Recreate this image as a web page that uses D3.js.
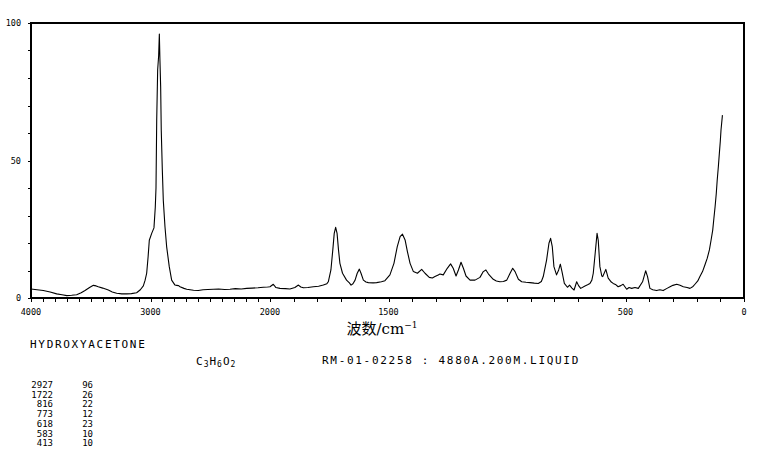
<!DOCTYPE html>
<html><head><meta charset="utf-8">
<script src="https://cdn.jsdelivr.net/npm/d3@7"></script>
<style>
html,body{margin:0;padding:0;background:#fff;}
svg{display:block;}
.mono{font-family:"DejaVu Sans Mono","Liberation Mono",monospace;fill:#000;}
</style></head>
<body>
<script>
// Raman spectrum: wavenumber (cm-1) and relative intensity
const wavenumbers = [4000,3950,3897,3840,3785,3740,3701,3660,3618,3580,3548,3510,3478,3455,3437,3400,3353,3320,3283,3240,3199,3160,3116,3085,3060,3045,3032,3020,3010,2990,2971,2960,2954,2948,2940,2932,2926,2921,2915,2910,2901,2893,2879,2865,2843,2823,2795,2781,2765,2753,2720,2697,2669,2640,2600,2560,2520,2474,2430,2380,2335,2290,2240,2195,2150,2100,2056,2020,2000,1986,1975,1958,1935,1916,1895,1880,1870,1859,1840,1817,1795,1775,1760,1754,1743,1735,1729,1723,1717,1711,1705,1694,1677,1665,1658,1650,1641,1632,1623,1616,1606,1595,1585,1565,1550,1530,1515,1494,1477,1463,1451,1441,1430,1420,1409,1395,1378,1360,1346,1328,1315,1304,1290,1283,1269,1252,1238,1227,1215,1205,1194,1184,1173,1156,1135,1114,1100,1089,1078,1058,1045,1030,1015,1001,987,976,966,952,938,920,903,885,868,855,847,833,823,816,809,802,791,782,775,768,758,745,736,726,717,706,698,689,671,660,650,642,636,628,620,615,608,600,596,583,573,560,552,540,531,520,510,495,485,474,460,446,428,415,407,397,385,369,355,341,325,312,300,284,270,256,240,228,215,207,195,186,175,165,155,146,139,132,127,122,117,113,108,104,100,97,91];
const intensities = [3.3,3.0,2.7,2.2,1.5,1.2,0.85,1.0,1.2,1.9,2.7,3.8,4.6,4.4,4.1,3.6,2.9,2.2,1.7,1.5,1.5,1.6,1.9,3.0,4.4,6.5,9.0,15,21,23.5,25.5,33,40,64.7,83,88,96,86.5,76.8,61,46.5,35.6,26,18.7,11.4,6.5,4.7,4.6,4.5,4.1,3.5,3.2,3.0,2.8,2.7,3.0,3.1,3.2,3.3,3.1,3.2,3.4,3.3,3.5,3.6,3.7,3.9,4.0,4.1,5.0,3.8,3.5,3.4,3.3,3.8,4.7,4.0,3.7,3.8,4.1,4.3,4.7,5.2,5.9,10.2,17.5,23.5,25.7,23.5,17.5,12.6,9.0,6.5,5.5,4.7,5.2,6.5,9.0,10.5,9.0,6.5,5.8,5.6,5.5,5.6,5.9,6.3,8.4,12.6,18.7,22.3,23.2,21.1,16.8,12.6,9.6,9.0,10.4,9.0,7.5,7.3,7.8,8.4,8.7,8.4,10.8,12.4,10.8,8.0,10.2,13.0,10.8,8.0,6.5,6.5,7.5,9.6,10.2,8.7,6.8,6.2,5.9,6.0,6.5,9.0,10.8,9.6,6.8,5.9,5.7,5.6,5.4,5.3,6.0,7.8,13.8,19.9,21.7,18.7,11.4,8.4,10.2,12.3,9.6,5.3,3.9,4.7,3.6,2.9,5.9,4.5,3.5,4.4,4.8,5.3,6.5,9.0,16.2,23.5,21.0,11.4,8.0,7.8,10.4,7.2,5.8,5.3,4.8,4.1,4.5,5.0,3.2,3.8,3.5,3.8,3.5,5.9,9.9,7.8,3.5,3.0,2.7,3.0,2.7,3.5,4.1,4.6,5.0,4.6,4.1,3.8,3.5,4.2,5.0,6.2,7.8,9.6,12.0,14.5,17.5,21,24.7,29,33.2,38,42.9,48,52.6,57,61.1,66.5];

// axis ticks and labels
const xTickLabels = [4000,3000,2000,1500,500,0];
const yTickLabels = [0,50,100];

// texts
const compoundName = "HYDROXYACETONE";
const formulaParts = [["C",false],["3",true],["H",false],["6",true],["O",false],["2",true]];
const sampleInfo = "RM-01-02258 : 4880A.200M.LIQUID";
const peakWavenumbers = [2927,1722,816,773,618,583,413];
const peakIntensities = [96,26,22,12,23,10,10];

const W = 765, H = 468;
const svg = d3.select("body").append("svg").attr("width", W).attr("height", H);

const mLeft = 31, mRight = 744, mTop = 23, mBottom = 298;
// piecewise x-scale: 4000-2000 compressed, 2000-0 expanded
const x = d3.scaleLinear().domain([4000, 2000, 0]).range([mLeft, 270, mRight]);
const y = d3.scaleLinear().domain([0, 100]).range([mBottom, mTop]);

const g = svg.append("g");

// frame
g.append("rect").attr("x", mLeft).attr("y", mTop).attr("width", mRight - mLeft).attr("height", mBottom - mTop)
  .attr("fill", "none").attr("stroke", "#000").attr("stroke-width", 1.3).attr("shape-rendering", "crispEdges");

// x ticks
const xTicks = d3.range(0, 4001, 100);
g.selectAll(".xt").data(xTicks).enter().append("line")
  .attr("x1", d => Math.round(x(d)) + 0.5).attr("x2", d => Math.round(x(d)) + 0.5)
  .attr("y1", mBottom).attr("y2", mBottom + 4)
  .attr("stroke", "#000").attr("stroke-width", 1).attr("shape-rendering", "crispEdges");
g.selectAll(".xl").data(xTickLabels).enter().append("text").attr("class", "mono")
  .attr("x", d => x(d)).attr("y", 314.5).attr("text-anchor", "middle")
  .attr("font-size", 8.5).text(d => d);

// y ticks
const yTicks = d3.range(0, 101, 10);
g.selectAll(".yt").data(yTicks).enter().append("line")
  .attr("x1", mLeft - 3).attr("x2", mLeft)
  .attr("y1", d => Math.round(y(d)) + 0.5).attr("y2", d => Math.round(y(d)) + 0.5)
  .attr("stroke", "#000").attr("stroke-width", 1).attr("shape-rendering", "crispEdges");
g.selectAll(".yl").data(yTickLabels).enter().append("text").attr("class", "mono")
  .attr("x", 21).attr("y", d => y(d) + 3).attr("text-anchor", "end")
  .attr("font-size", 8.5).text(d => d);

// spectrum
const pts = wavenumbers.map((w, i) => [w, intensities[i]]);
const line = d3.line().x(d => x(d[0])).y(d => y(d[1]));
g.append("path").datum(pts).attr("d", line).attr("fill", "none")
  .attr("stroke", "#000").attr("stroke-width", 1.1).attr("stroke-linejoin", "round");

// axis title
const title = svg.append("text").attr("x", 382).attr("y", 333.5).attr("text-anchor", "middle").attr("fill", "#000");
title.append("tspan").attr("font-family", "'Noto Sans CJK SC', sans-serif").attr("font-size", 15).text("波数");
title.append("tspan").attr("font-family", "'DejaVu Serif','Liberation Serif', serif").attr("font-size", 15).text("/cm");
title.append("tspan").attr("font-family", "'DejaVu Serif','Liberation Serif', serif").attr("font-size", 9).attr("dy", -6).text("−1");

// compound name
svg.append("text").attr("class", "mono").attr("x", 30).attr("y", 348)
  .attr("font-size", 11).attr("letter-spacing", 1.7).text(compoundName);

// formula
const f = svg.append("text").attr("class", "mono").attr("x", 196).attr("y", 365).attr("font-size", 11);
formulaParts.forEach((p, i) => {
  const t = f.append("tspan").text(p[0]);
  if (p[1]) t.attr("font-size", 8).attr("dy", 2).attr("dx", 1);
  else t.attr("dy", i === 0 ? 0 : -2).attr("dx", i === 0 ? 0 : 1);
});

// sample info
svg.append("text").attr("class", "mono").attr("x", 322).attr("y", 364)
  .attr("font-size", 11).attr("letter-spacing", 1.7).text(sampleInfo);

// peak table
peakWavenumbers.forEach((w, i) => {
  svg.append("text").attr("class", "mono").attr("x", 53).attr("y", 388 + i * 9.7)
    .attr("text-anchor", "end").attr("font-size", 9).text(w);
  svg.append("text").attr("class", "mono").attr("x", 93).attr("y", 388 + i * 9.7)
    .attr("text-anchor", "end").attr("font-size", 9).text(peakIntensities[i]);
});
</script>
</body></html>
